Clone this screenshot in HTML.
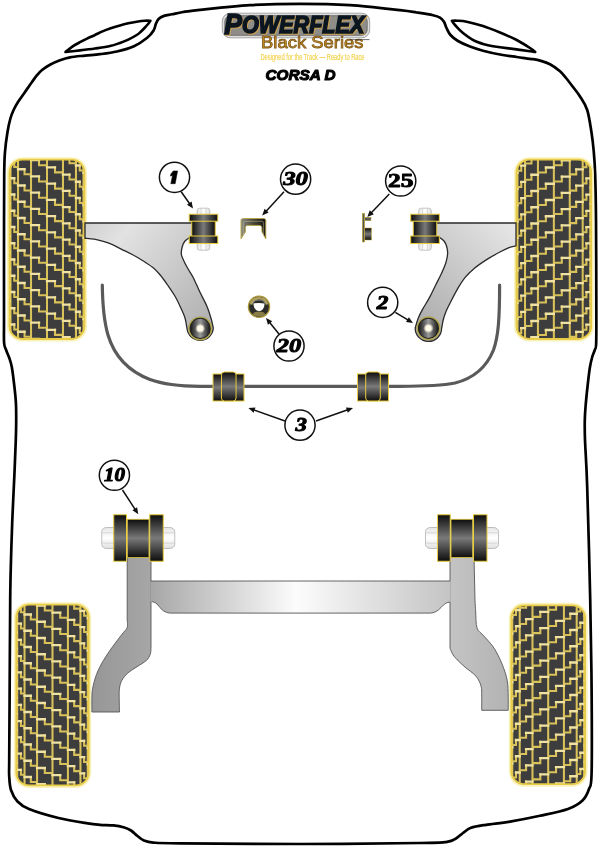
<!DOCTYPE html>
<html><head><meta charset="utf-8"><title>Powerflex Black Series - Corsa D</title>
<style>
html,body{margin:0;padding:0;background:#fff;width:600px;height:848px;overflow:hidden;font-family:"Liberation Sans",sans-serif;}
svg{display:block;will-change:transform;}
</style></head><body>
<svg width="600" height="848" viewBox="0 0 600 848">
<defs>
<linearGradient id="bushh" x1="0" y1="0" x2="1" y2="0">
<stop offset="0" stop-color="#0d0d0d"/><stop offset="0.5" stop-color="#7a7a7a"/><stop offset="1" stop-color="#0d0d0d"/></linearGradient>
<linearGradient id="bushv" x1="0" y1="0" x2="0" y2="1">
<stop offset="0" stop-color="#0d0d0d"/><stop offset="0.5" stop-color="#7a7a7a"/><stop offset="1" stop-color="#0d0d0d"/></linearGradient>
<linearGradient id="boltv" x1="0" y1="0" x2="1" y2="0">
<stop offset="0" stop-color="#e6e6e6"/><stop offset="0.5" stop-color="#ffffff"/><stop offset="1" stop-color="#e0e0e0"/></linearGradient>
<linearGradient id="bolth" x1="0" y1="0" x2="0" y2="1">
<stop offset="0" stop-color="#e6e6e6"/><stop offset="0.5" stop-color="#ffffff"/><stop offset="1" stop-color="#e0e0e0"/></linearGradient>
<linearGradient id="armL" x1="212" y1="325" x2="92" y2="222" gradientUnits="userSpaceOnUse">
<stop offset="0" stop-color="#b0b0b0"/><stop offset="0.8" stop-color="#e2e2e2"/><stop offset="1" stop-color="#d2d2d2"/></linearGradient>
<linearGradient id="armR" x1="420" y1="325" x2="516" y2="228" gradientUnits="userSpaceOnUse">
<stop offset="0" stop-color="#adadad"/><stop offset="1" stop-color="#e6e6e6"/></linearGradient>
<linearGradient id="bjh" x1="0" y1="0" x2="1" y2="0">
<stop offset="0" stop-color="#1c1c1c"/><stop offset="0.5" stop-color="#9a9a9a"/><stop offset="1" stop-color="#1c1c1c"/></linearGradient>
<radialGradient id="bj" cx="0.5" cy="0.5" r="0.5">
<stop offset="0" stop-color="#fffce8"/><stop offset="0.27" stop-color="#fff8d8"/><stop offset="0.36" stop-color="#a8a8a8"/><stop offset="0.62" stop-color="#6a6a6a"/><stop offset="0.8" stop-color="#262626"/><stop offset="0.9" stop-color="#1c1c1c"/><stop offset="1" stop-color="#5a5420"/></radialGradient>
<linearGradient id="axle" x1="90" y1="0" x2="510" y2="0" gradientUnits="userSpaceOnUse">
<stop offset="0" stop-color="#969696"/><stop offset="0.143" stop-color="#a6a6a6"/><stop offset="0.49" stop-color="#fcfcfc"/><stop offset="0.857" stop-color="#c4c4c4"/><stop offset="1" stop-color="#b2b2b2"/></linearGradient>
<linearGradient id="p30" x1="0" y1="0" x2="1" y2="0">
<stop offset="0" stop-color="#8a8a86"/><stop offset="0.5" stop-color="#4a4638"/><stop offset="1" stop-color="#141412"/></linearGradient>
</defs>
<path d="M300,3.8 C283.33,3.8 266.67,4.2 250,5.2 C233.33,6.2 211.17,8.67 200,9.8 C188.83,10.93 187.67,11.25 183,12 C178.33,12.75 175.17,13.65 172,14.3 C168.83,14.95 166.23,15.13 164,15.9 C161.77,16.67 159.93,17.63 158.6,18.9 C157.27,20.17 156.83,21.57 156,23.5 C155.17,25.43 155.07,28.12 153.6,30.5 C152.13,32.88 150.47,35.17 147.2,37.8 C143.93,40.43 139.03,44.02 134,46.3 C128.97,48.58 122.67,50.18 117,51.5 C111.33,52.82 105.33,53.52 100,54.2 C94.67,54.88 90,55.08 85,55.6 C80,56.12 74.17,56.53 70,57.3 C65.83,58.07 63.33,58.97 60,60.2 C56.67,61.43 53,63.07 50,64.7 C47,66.33 44.17,68.25 42,70 C39.83,71.75 38.67,73.2 37,75.2 C35.33,77.2 34,79.2 32,82 C30,84.8 27.33,88.67 25,92 C22.67,95.33 19.9,99 18,102 C16.1,105 14.87,107.25 13.6,110 C12.33,112.75 11.42,114.83 10.4,118.5 C9.38,122.17 8.4,126.42 7.5,132 C6.6,137.58 5.55,144.83 5,152 C4.45,159.17 4.37,158.67 4.2,175 C4.03,191.33 4.03,225.83 4,250 C3.97,274.17 3.98,304.5 4,320 C4.02,335.5 3.72,337.92 4.1,343 C4.48,348.08 5.43,348 6.3,350.5 C7.17,353 8.38,355.25 9.3,358 C10.22,360.75 10.98,362.5 11.8,367 C12.62,371.5 13.52,379.07 14.2,385 C14.88,390.93 15.57,396.77 15.9,402.6 C16.23,408.43 16.22,413.77 16.2,420 C16.18,426.23 16.12,430.5 15.8,440 C15.48,449.5 14.88,463.67 14.3,477 C13.72,490.33 12.85,506.17 12.3,520 C11.75,533.83 11.35,546.67 11,560 C10.65,573.33 10.43,576.67 10.2,600 C9.97,623.33 9.77,673.17 9.6,700 C9.43,726.83 9.27,748.33 9.2,761 C9.13,773.67 8.9,771.17 9.2,776 C9.5,780.83 9.62,785.75 11,790 C12.38,794.25 14.5,798.33 17.5,801.5 C20.5,804.67 22.17,806.25 29,809 C35.83,811.75 48.72,815.6 58.5,818 C68.28,820.4 80.78,822.27 87.7,823.4 C94.62,824.53 95.73,824.47 100,824.8 C104.27,825.13 109.38,825 113.3,825.4 C117.22,825.8 120.55,826.35 123.5,827.2 C126.45,828.05 128.67,829.03 131,830.5 C133.33,831.97 135.33,834.33 137.5,836 C139.67,837.67 141.37,839.4 144,840.5 C146.63,841.6 147.3,842.13 153.3,842.6 C159.3,843.07 155.55,843.07 180,843.3 C204.45,843.53 260,844.05 300,844 C340,843.95 395.5,843.37 420,843 C444.5,842.63 441,842.55 447,841.8 C453,841.05 453.33,839.97 456,838.5 C458.67,837.03 460.5,834.78 463,833 C465.5,831.22 467.17,829.17 471,827.8 C474.83,826.43 479.5,825.83 486,824.8 C492.5,823.77 501,823.1 510,821.6 C519,820.1 530.33,817.9 540,815.8 C549.67,813.7 560.92,811.55 568,809 C575.08,806.45 579,803.83 582.5,800.5 C586,797.17 587.48,793.58 589,789 C590.52,784.42 591.17,789.67 591.6,773 C592.03,756.33 591.83,718 591.6,689 C591.37,660 590.93,632.67 590.2,599 C589.47,565.33 588.07,513.5 587.2,487 C586.33,460.5 585.4,451.17 585,440 C584.6,428.83 584.7,425.67 584.8,420 C584.9,414.33 585.12,411.83 585.6,406 C586.08,400.17 587,391.33 587.7,385 C588.4,378.67 589.05,372.67 589.8,368 C590.55,363.33 591.37,360.03 592.2,357 C593.03,353.97 594.13,352.23 594.8,349.8 C595.47,347.37 595.95,350.7 596.2,342.4 C596.45,334.1 596.33,320.4 596.3,300 C596.27,279.6 596.18,240.83 596,220 C595.82,199.17 595.57,186.33 595.2,175 C594.83,163.67 594.42,159.08 593.8,152 C593.18,144.92 592.6,139.5 591.5,132.5 C590.4,125.5 589.12,116 587.2,110 C585.28,104 582.37,100.33 580,96.5 C577.63,92.67 575.33,90.08 573,87 C570.67,83.92 568.17,80.63 566,78 C563.83,75.37 562.67,73.5 560,71.2 C557.33,68.9 553.33,65.97 550,64.2 C546.67,62.43 542.83,61.43 540,60.6 C537.17,59.77 536.88,59.8 533,59.2 C529.12,58.6 522.2,57.78 516.7,57 C511.2,56.22 505.62,55.55 500,54.5 C494.38,53.45 488,52.02 483,50.7 C478,49.38 474.17,48.22 470,46.6 C465.83,44.98 461.25,42.93 458,41 C454.75,39.07 452.42,37.17 450.5,35 C448.58,32.83 447.58,30.2 446.5,28 C445.42,25.8 445.08,23.53 444,21.8 C442.92,20.07 441.83,18.7 440,17.6 C438.17,16.5 436.88,16.05 433,15.2 C429.12,14.35 422.2,13.33 416.7,12.5 C411.2,11.67 411.12,11.42 400,10.2 C388.88,8.98 366.67,6.27 350,5.2 C333.33,4.13 316.67,3.8 300,3.8Z" fill="none" stroke="#000" stroke-width="2.7" stroke-linejoin="round"/>
<path d="M65.5,52 C66.58,51.13 69.58,48.43 72,46.8 C74.42,45.17 77.42,43.6 80,42.2 C82.58,40.8 85,39.6 87.5,38.4 C90,37.2 92.5,36.17 95,35 C97.5,33.83 100,32.48 102.5,31.4 C105,30.32 107.08,29.5 110,28.5 C112.92,27.5 116.95,26.27 120,25.4 C123.05,24.53 125.52,23.92 128.3,23.3 C131.08,22.68 133.92,22.13 136.7,21.7 C139.48,21.27 142.72,20.85 145,20.7 C147.28,20.55 149.5,20.78 150.4,20.8 L150.4,20.8 C150.05,21.29 149.2,22.63 148.3,23.75 C147.4,24.87 146.25,26.18 145,27.5 C143.75,28.82 142.18,30.45 140.8,31.7 C139.42,32.95 138.78,33.68 136.7,35 C134.62,36.32 131.08,38.28 128.3,39.6 C125.52,40.92 123.05,41.82 120,42.9 C116.95,43.98 114.17,45.17 110,46.1 C105.83,47.03 100,47.78 95,48.5 C90,49.22 84.92,49.82 80,50.4 C75.08,50.98 67.92,51.73 65.5,52Z" fill="none" stroke="#000" stroke-width="2.6" stroke-linejoin="round"/>
<path d="M451.9,20.8 C452.75,20.78 454.53,20.55 457,20.7 C459.47,20.85 462.37,20.82 466.7,21.7 C471.03,22.58 477.45,24.2 483,26 C488.55,27.8 494.38,30.17 500,32.5 C505.62,34.83 511.7,37.42 516.7,40 C521.7,42.58 526.92,46 530,48 C533.08,50 534.33,51.33 535.2,52 L535.2,52 C534.33,51.87 533.08,51.63 530,51.2 C526.92,50.77 521.7,50.07 516.7,49.4 C511.7,48.73 504.78,47.88 500,47.2 C495.22,46.52 492.17,46.33 488,45.3 C483.83,44.27 479.17,43.05 475,41 C470.83,38.95 466.25,35.58 463,33 C459.75,30.42 457.35,27.53 455.5,25.5 C453.65,23.47 452.5,21.58 451.9,20.8Z" fill="none" stroke="#000" stroke-width="2.6" stroke-linejoin="round"/>
<clipPath id="tctl"><rect x="9.2" y="159.4" width="75.6" height="179.9" rx="13"/></clipPath>
<rect x="9.2" y="159.4" width="75.6" height="179.9" rx="13" fill="#3d3d3d"/>
<g clip-path="url(#tctl)" fill="none" stroke-width="2.05" stroke-linecap="square">
<path stroke="#dac25a" d="M9.84,122.3V127.3H10.49M9.84,138.55V143.55H10.49M9.84,154.8V159.8H10.49M9.84,171.05V176.05H10.49M9.84,187.3V192.3H10.49M9.84,203.55V208.55H10.49M9.84,219.8V224.8H10.49M9.84,236.05V241.05H10.49M9.84,252.3V257.3H10.49M9.84,268.55V273.55H10.49M9.84,284.8V289.8H10.49M9.84,301.05V306.05H10.49M9.84,317.3V322.3H10.49M9.84,333.55V338.55H10.49M9.84,349.8V354.8H10.49M14.27,113.25V118.25H18.04M14.27,129.5V134.5H18.04M14.27,145.75V150.75H18.04M14.27,162V167H18.04M14.27,178.25V183.25H18.04M14.27,194.5V199.5H18.04M14.27,210.75V215.75H18.04M14.27,227V232H18.04M14.27,243.25V248.25H18.04M14.27,259.5V264.5H18.04M14.27,275.75V280.75H18.04M14.27,292V297H18.04M14.27,308.25V313.25H18.04M14.27,324.5V329.5H18.04M14.27,340.75V345.75H18.04M24.53,120.45V125.45H31.03M24.53,136.7V141.7H31.03M24.53,152.95V157.95H31.03M24.53,169.2V174.2H31.03M24.53,185.45V190.45H31.03M24.53,201.7V206.7H31.03M24.53,217.95V222.95H31.03M24.53,234.2V239.2H31.03M24.53,250.45V255.45H31.03M24.53,266.7V271.7H31.03M24.53,282.95V287.95H31.03M24.53,299.2V304.2H31.03M24.53,315.45V320.45H31.03M24.53,331.7V336.7H31.03M24.53,347.95V352.95H31.03M39.01,111.4V116.4H47M39.01,127.65V132.65H47M39.01,143.9V148.9H47M39.01,160.15V165.15H47M39.01,176.4V181.4H47M39.01,192.65V197.65H47M39.01,208.9V213.9H47M39.01,225.15V230.15H47M39.01,241.4V246.4H47M39.01,257.65V262.65H47M39.01,273.9V278.9H47M39.01,290.15V295.15H47M39.01,306.4V311.4H47M39.01,322.65V327.65H47M39.01,338.9V343.9H47M39.01,355.15V360.15H47M54.99,118.6V123.6H62.97M54.99,134.85V139.85H62.97M54.99,151.1V156.1H62.97M54.99,167.35V172.35H62.97M54.99,183.6V188.6H62.97M54.99,199.85V204.85H62.97M54.99,216.1V221.1H62.97M54.99,232.35V237.35H62.97M54.99,248.6V253.6H62.97M54.99,264.85V269.85H62.97M54.99,281.1V286.1H62.97M54.99,297.35V302.35H62.97M54.99,313.6V318.6H62.97M54.99,329.85V334.85H62.97M54.99,346.1V351.1H62.97M69.47,125.8V130.8H75.96M69.47,142.05V147.05H75.96M69.47,158.3V163.3H75.96M69.47,174.55V179.55H75.96M69.47,190.8V195.8H75.96M69.47,207.05V212.05H75.96M69.47,223.3V228.3H75.96M69.47,239.55V244.55H75.96M69.47,255.8V260.8H75.96M69.47,272.05V277.05H75.96M69.47,288.3V293.3H75.96M69.47,304.55V309.55H75.96M69.47,320.8V325.8H75.96M69.47,337.05V342.05H75.96M69.47,353.3V358.3H75.96M79.73,116.75V121.75H83.51M79.73,133V138H83.51M79.73,149.25V154.25H83.51M79.73,165.5V170.5H83.51M79.73,181.75V186.75H83.51M79.73,198V203H83.51M79.73,214.25V219.25H83.51M79.73,230.5V235.5H83.51M79.73,246.75V251.75H83.51M79.73,263V268H83.51M79.73,279.25V284.25H83.51M79.73,295.5V300.5H83.51M79.73,311.75V316.75H83.51M79.73,328V333H83.51M79.73,344.25V349.25H83.51M84.16,123.95V128.95H84.8M84.16,140.2V145.2H84.8M84.16,156.45V161.45H84.8M84.16,172.7V177.7H84.8M84.16,188.95V193.95H84.8M84.16,205.2V210.2H84.8M84.16,221.45V226.45H84.8M84.16,237.7V242.7H84.8M84.16,253.95V258.95H84.8M84.16,270.2V275.2H84.8M84.16,286.45V291.45H84.8M84.16,302.7V307.7H84.8M84.16,318.95V323.95H84.8M84.16,335.2V340.2H84.8M84.16,351.45V356.45H84.8M10.49,159.4V339.3M18.04,159.4V339.3M31.03,159.4V339.3M47,159.4V339.3M62.97,159.4V339.3M75.96,159.4V339.3M83.51,159.4V339.3"/>
<path stroke="#f0e2a2" stroke-width="2.35" d="M9.2,122.3H9.84M9.2,138.55H9.84M9.2,154.8H9.84M9.2,171.05H9.84M9.2,187.3H9.84M9.2,203.55H9.84M9.2,219.8H9.84M9.2,236.05H9.84M9.2,252.3H9.84M9.2,268.55H9.84M9.2,284.8H9.84M9.2,301.05H9.84M9.2,317.3H9.84M9.2,333.55H9.84M9.2,349.8H9.84M10.49,113.25H14.27M10.49,129.5H14.27M10.49,145.75H14.27M10.49,162H14.27M10.49,178.25H14.27M10.49,194.5H14.27M10.49,210.75H14.27M10.49,227H14.27M10.49,243.25H14.27M10.49,259.5H14.27M10.49,275.75H14.27M10.49,292H14.27M10.49,308.25H14.27M10.49,324.5H14.27M10.49,340.75H14.27M18.04,120.45H24.53M18.04,136.7H24.53M18.04,152.95H24.53M18.04,169.2H24.53M18.04,185.45H24.53M18.04,201.7H24.53M18.04,217.95H24.53M18.04,234.2H24.53M18.04,250.45H24.53M18.04,266.7H24.53M18.04,282.95H24.53M18.04,299.2H24.53M18.04,315.45H24.53M18.04,331.7H24.53M18.04,347.95H24.53M31.03,111.4H39.01M31.03,127.65H39.01M31.03,143.9H39.01M31.03,160.15H39.01M31.03,176.4H39.01M31.03,192.65H39.01M31.03,208.9H39.01M31.03,225.15H39.01M31.03,241.4H39.01M31.03,257.65H39.01M31.03,273.9H39.01M31.03,290.15H39.01M31.03,306.4H39.01M31.03,322.65H39.01M31.03,338.9H39.01M31.03,355.15H39.01M47,118.6H54.99M47,134.85H54.99M47,151.1H54.99M47,167.35H54.99M47,183.6H54.99M47,199.85H54.99M47,216.1H54.99M47,232.35H54.99M47,248.6H54.99M47,264.85H54.99M47,281.1H54.99M47,297.35H54.99M47,313.6H54.99M47,329.85H54.99M47,346.1H54.99M62.97,125.8H69.47M62.97,142.05H69.47M62.97,158.3H69.47M62.97,174.55H69.47M62.97,190.8H69.47M62.97,207.05H69.47M62.97,223.3H69.47M62.97,239.55H69.47M62.97,255.8H69.47M62.97,272.05H69.47M62.97,288.3H69.47M62.97,304.55H69.47M62.97,320.8H69.47M62.97,337.05H69.47M62.97,353.3H69.47M75.96,116.75H79.73M75.96,133H79.73M75.96,149.25H79.73M75.96,165.5H79.73M75.96,181.75H79.73M75.96,198H79.73M75.96,214.25H79.73M75.96,230.5H79.73M75.96,246.75H79.73M75.96,263H79.73M75.96,279.25H79.73M75.96,295.5H79.73M75.96,311.75H79.73M75.96,328H79.73M75.96,344.25H79.73M83.51,123.95H84.16M83.51,140.2H84.16M83.51,156.45H84.16M83.51,172.7H84.16M83.51,188.95H84.16M83.51,205.2H84.16M83.51,221.45H84.16M83.51,237.7H84.16M83.51,253.95H84.16M83.51,270.2H84.16M83.51,286.45H84.16M83.51,302.7H84.16M83.51,318.95H84.16M83.51,335.2H84.16M83.51,351.45H84.16"/>
</g>
<rect x="8.1" y="158.3" width="77.8" height="182.1" rx="14" fill="none" stroke="#f9f0b0" stroke-width="2.2" opacity="0.85"/>
<rect x="9.5" y="159.7" width="75" height="179.3" rx="13" fill="none" stroke="#e8cc48" stroke-width="1.8"/>
<clipPath id="tctr"><rect x="516.2" y="159.4" width="75.3" height="179.9" rx="13"/></clipPath>
<rect x="516.2" y="159.4" width="75.3" height="179.9" rx="13" fill="#3d3d3d"/>
<g clip-path="url(#tctr)" fill="none" stroke-width="2.05" stroke-linecap="square">
<path stroke="#dac25a" d="M516.84,124.1V129.1H516.2M516.84,140.35V145.35H516.2M516.84,156.6V161.6H516.2M516.84,172.85V177.85H516.2M516.84,189.1V194.1H516.2M516.84,205.35V210.35H516.2M516.84,221.6V226.6H516.2M516.84,237.85V242.85H516.2M516.84,254.1V259.1H516.2M516.84,270.35V275.35H516.2M516.84,286.6V291.6H516.2M516.84,302.85V307.85H516.2M516.84,319.1V324.1H516.2M516.84,335.35V340.35H516.2M516.84,351.6V356.6H516.2M521.25,116.9V121.9H517.48M521.25,133.15V138.15H517.48M521.25,149.4V154.4H517.48M521.25,165.65V170.65H517.48M521.25,181.9V186.9H517.48M521.25,198.15V203.15H517.48M521.25,214.4V219.4H517.48M521.25,230.65V235.65H517.48M521.25,246.9V251.9H517.48M521.25,263.15V268.15H517.48M521.25,279.4V284.4H517.48M521.25,295.65V300.65H517.48M521.25,311.9V316.9H517.48M521.25,328.15V333.15H517.48M521.25,344.4V349.4H517.48M531.47,125.95V130.95H525.01M531.47,142.2V147.2H525.01M531.47,158.45V163.45H525.01M531.47,174.7V179.7H525.01M531.47,190.95V195.95H525.01M531.47,207.2V212.2H525.01M531.47,223.45V228.45H525.01M531.47,239.7V244.7H525.01M531.47,255.95V260.95H525.01M531.47,272.2V277.2H525.01M531.47,288.45V293.45H525.01M531.47,304.7V309.7H525.01M531.47,320.95V325.95H525.01M531.47,337.2V342.2H525.01M531.47,353.45V358.45H525.01M545.89,118.75V123.75H537.94M545.89,135V140H537.94M545.89,151.25V156.25H537.94M545.89,167.5V172.5H537.94M545.89,183.75V188.75H537.94M545.89,200V205H537.94M545.89,216.25V221.25H537.94M545.89,232.5V237.5H537.94M545.89,248.75V253.75H537.94M545.89,265V270H537.94M545.89,281.25V286.25H537.94M545.89,297.5V302.5H537.94M545.89,313.75V318.75H537.94M545.89,330V335H537.94M545.89,346.25V351.25H537.94M561.81,111.55V116.55H553.85M561.81,127.8V132.8H553.85M561.81,144.05V149.05H553.85M561.81,160.3V165.3H553.85M561.81,176.55V181.55H553.85M561.81,192.8V197.8H553.85M561.81,209.05V214.05H553.85M561.81,225.3V230.3H553.85M561.81,241.55V246.55H553.85M561.81,257.8V262.8H553.85M561.81,274.05V279.05H553.85M561.81,290.3V295.3H553.85M561.81,306.55V311.55H553.85M561.81,322.8V327.8H553.85M561.81,339.05V344.05H553.85M561.81,355.3V360.3H553.85M576.23,120.6V125.6H569.76M576.23,136.85V141.85H569.76M576.23,153.1V158.1H569.76M576.23,169.35V174.35H569.76M576.23,185.6V190.6H569.76M576.23,201.85V206.85H569.76M576.23,218.1V223.1H569.76M576.23,234.35V239.35H569.76M576.23,250.6V255.6H569.76M576.23,266.85V271.85H569.76M576.23,283.1V288.1H569.76M576.23,299.35V304.35H569.76M576.23,315.6V320.6H569.76M576.23,331.85V336.85H569.76M576.23,348.1V353.1H569.76M586.45,113.4V118.4H582.69M586.45,129.65V134.65H582.69M586.45,145.9V150.9H582.69M586.45,162.15V167.15H582.69M586.45,178.4V183.4H582.69M586.45,194.65V199.65H582.69M586.45,210.9V215.9H582.69M586.45,227.15V232.15H582.69M586.45,243.4V248.4H582.69M586.45,259.65V264.65H582.69M586.45,275.9V280.9H582.69M586.45,292.15V297.15H582.69M586.45,308.4V313.4H582.69M586.45,324.65V329.65H582.69M586.45,340.9V345.9H582.69M590.86,122.45V127.45H590.22M590.86,138.7V143.7H590.22M590.86,154.95V159.95H590.22M590.86,171.2V176.2H590.22M590.86,187.45V192.45H590.22M590.86,203.7V208.7H590.22M590.86,219.95V224.95H590.22M590.86,236.2V241.2H590.22M590.86,252.45V257.45H590.22M590.86,268.7V273.7H590.22M590.86,284.95V289.95H590.22M590.86,301.2V306.2H590.22M590.86,317.45V322.45H590.22M590.86,333.7V338.7H590.22M590.86,349.95V354.95H590.22M517.48,159.4V339.3M525.01,159.4V339.3M537.94,159.4V339.3M553.85,159.4V339.3M569.76,159.4V339.3M582.69,159.4V339.3M590.22,159.4V339.3"/>
<path stroke="#f0e2a2" stroke-width="2.35" d="M516.84,124.1H517.48M516.84,140.35H517.48M516.84,156.6H517.48M516.84,172.85H517.48M516.84,189.1H517.48M516.84,205.35H517.48M516.84,221.6H517.48M516.84,237.85H517.48M516.84,254.1H517.48M516.84,270.35H517.48M516.84,286.6H517.48M516.84,302.85H517.48M516.84,319.1H517.48M516.84,335.35H517.48M516.84,351.6H517.48M521.25,116.9H525.01M521.25,133.15H525.01M521.25,149.4H525.01M521.25,165.65H525.01M521.25,181.9H525.01M521.25,198.15H525.01M521.25,214.4H525.01M521.25,230.65H525.01M521.25,246.9H525.01M521.25,263.15H525.01M521.25,279.4H525.01M521.25,295.65H525.01M521.25,311.9H525.01M521.25,328.15H525.01M521.25,344.4H525.01M531.47,125.95H537.94M531.47,142.2H537.94M531.47,158.45H537.94M531.47,174.7H537.94M531.47,190.95H537.94M531.47,207.2H537.94M531.47,223.45H537.94M531.47,239.7H537.94M531.47,255.95H537.94M531.47,272.2H537.94M531.47,288.45H537.94M531.47,304.7H537.94M531.47,320.95H537.94M531.47,337.2H537.94M531.47,353.45H537.94M545.89,118.75H553.85M545.89,135H553.85M545.89,151.25H553.85M545.89,167.5H553.85M545.89,183.75H553.85M545.89,200H553.85M545.89,216.25H553.85M545.89,232.5H553.85M545.89,248.75H553.85M545.89,265H553.85M545.89,281.25H553.85M545.89,297.5H553.85M545.89,313.75H553.85M545.89,330H553.85M545.89,346.25H553.85M561.81,111.55H569.76M561.81,127.8H569.76M561.81,144.05H569.76M561.81,160.3H569.76M561.81,176.55H569.76M561.81,192.8H569.76M561.81,209.05H569.76M561.81,225.3H569.76M561.81,241.55H569.76M561.81,257.8H569.76M561.81,274.05H569.76M561.81,290.3H569.76M561.81,306.55H569.76M561.81,322.8H569.76M561.81,339.05H569.76M561.81,355.3H569.76M576.23,120.6H582.69M576.23,136.85H582.69M576.23,153.1H582.69M576.23,169.35H582.69M576.23,185.6H582.69M576.23,201.85H582.69M576.23,218.1H582.69M576.23,234.35H582.69M576.23,250.6H582.69M576.23,266.85H582.69M576.23,283.1H582.69M576.23,299.35H582.69M576.23,315.6H582.69M576.23,331.85H582.69M576.23,348.1H582.69M586.45,113.4H590.22M586.45,129.65H590.22M586.45,145.9H590.22M586.45,162.15H590.22M586.45,178.4H590.22M586.45,194.65H590.22M586.45,210.9H590.22M586.45,227.15H590.22M586.45,243.4H590.22M586.45,259.65H590.22M586.45,275.9H590.22M586.45,292.15H590.22M586.45,308.4H590.22M586.45,324.65H590.22M586.45,340.9H590.22M590.86,122.45H591.5M590.86,138.7H591.5M590.86,154.95H591.5M590.86,171.2H591.5M590.86,187.45H591.5M590.86,203.7H591.5M590.86,219.95H591.5M590.86,236.2H591.5M590.86,252.45H591.5M590.86,268.7H591.5M590.86,284.95H591.5M590.86,301.2H591.5M590.86,317.45H591.5M590.86,333.7H591.5M590.86,349.95H591.5"/>
</g>
<rect x="515.1" y="158.3" width="77.5" height="182.1" rx="14" fill="none" stroke="#f9f0b0" stroke-width="2.2" opacity="0.85"/>
<rect x="516.5" y="159.7" width="74.7" height="179.3" rx="13" fill="none" stroke="#e8cc48" stroke-width="1.8"/>
<clipPath id="tcbl"><rect x="16" y="604.4" width="73" height="181.3" rx="13"/></clipPath>
<rect x="16" y="604.4" width="73" height="181.3" rx="13" fill="#3d3d3d"/>
<g clip-path="url(#tcbl)" fill="none" stroke-width="2.05" stroke-linecap="square">
<path stroke="#dac25a" d="M16.62,567.6V572.6H17.24M16.62,583.85V588.85H17.24M16.62,600.1V605.1H17.24M16.62,616.35V621.35H17.24M16.62,632.6V637.6H17.24M16.62,648.85V653.85H17.24M16.62,665.1V670.1H17.24M16.62,681.35V686.35H17.24M16.62,697.6V702.6H17.24M16.62,713.85V718.85H17.24M16.62,730.1V735.1H17.24M16.62,746.35V751.35H17.24M16.62,762.6V767.6H17.24M16.62,778.85V783.85H17.24M16.62,795.1V800.1H17.24M20.89,558.55V563.55H24.54M20.89,574.8V579.8H24.54M20.89,591.05V596.05H24.54M20.89,607.3V612.3H24.54M20.89,623.55V628.55H24.54M20.89,639.8V644.8H24.54M20.89,656.05V661.05H24.54M20.89,672.3V677.3H24.54M20.89,688.55V693.55H24.54M20.89,704.8V709.8H24.54M20.89,721.05V726.05H24.54M20.89,737.3V742.3H24.54M20.89,753.55V758.55H24.54M20.89,769.8V774.8H24.54M20.89,786.05V791.05H24.54M30.81,565.75V570.75H37.07M30.81,582V587H37.07M30.81,598.25V603.25H37.07M30.81,614.5V619.5H37.07M30.81,630.75V635.75H37.07M30.81,647V652H37.07M30.81,663.25V668.25H37.07M30.81,679.5V684.5H37.07M30.81,695.75V700.75H37.07M30.81,712V717H37.07M30.81,728.25V733.25H37.07M30.81,744.5V749.5H37.07M30.81,760.75V765.75H37.07M30.81,777V782H37.07M30.81,793.25V798.25H37.07M44.79,556.7V561.7H52.5M44.79,572.95V577.95H52.5M44.79,589.2V594.2H52.5M44.79,605.45V610.45H52.5M44.79,621.7V626.7H52.5M44.79,637.95V642.95H52.5M44.79,654.2V659.2H52.5M44.79,670.45V675.45H52.5M44.79,686.7V691.7H52.5M44.79,702.95V707.95H52.5M44.79,719.2V724.2H52.5M44.79,735.45V740.45H52.5M44.79,751.7V756.7H52.5M44.79,767.95V772.95H52.5M44.79,784.2V789.2H52.5M44.79,800.45V805.45H52.5M60.21,563.9V568.9H67.93M60.21,580.15V585.15H67.93M60.21,596.4V601.4H67.93M60.21,612.65V617.65H67.93M60.21,628.9V633.9H67.93M60.21,645.15V650.15H67.93M60.21,661.4V666.4H67.93M60.21,677.65V682.65H67.93M60.21,693.9V698.9H67.93M60.21,710.15V715.15H67.93M60.21,726.4V731.4H67.93M60.21,742.65V747.65H67.93M60.21,758.9V763.9H67.93M60.21,775.15V780.15H67.93M60.21,791.4V796.4H67.93M74.19,571.1V576.1H80.46M74.19,587.35V592.35H80.46M74.19,603.6V608.6H80.46M74.19,619.85V624.85H80.46M74.19,636.1V641.1H80.46M74.19,652.35V657.35H80.46M74.19,668.6V673.6H80.46M74.19,684.85V689.85H80.46M74.19,701.1V706.1H80.46M74.19,717.35V722.35H80.46M74.19,733.6V738.6H80.46M74.19,749.85V754.85H80.46M74.19,766.1V771.1H80.46M74.19,782.35V787.35H80.46M74.19,798.6V803.6H80.46M84.11,562.05V567.05H87.76M84.11,578.3V583.3H87.76M84.11,594.55V599.55H87.76M84.11,610.8V615.8H87.76M84.11,627.05V632.05H87.76M84.11,643.3V648.3H87.76M84.11,659.55V664.55H87.76M84.11,675.8V680.8H87.76M84.11,692.05V697.05H87.76M84.11,708.3V713.3H87.76M84.11,724.55V729.55H87.76M84.11,740.8V745.8H87.76M84.11,757.05V762.05H87.76M84.11,773.3V778.3H87.76M84.11,789.55V794.55H87.76M88.38,569.25V574.25H89M88.38,585.5V590.5H89M88.38,601.75V606.75H89M88.38,618V623H89M88.38,634.25V639.25H89M88.38,650.5V655.5H89M88.38,666.75V671.75H89M88.38,683V688H89M88.38,699.25V704.25H89M88.38,715.5V720.5H89M88.38,731.75V736.75H89M88.38,748V753H89M88.38,764.25V769.25H89M88.38,780.5V785.5H89M88.38,796.75V801.75H89M17.24,604.4V785.7M24.54,604.4V785.7M37.07,604.4V785.7M52.5,604.4V785.7M67.93,604.4V785.7M80.46,604.4V785.7M87.76,604.4V785.7"/>
<path stroke="#f0e2a2" stroke-width="2.35" d="M16,567.6H16.62M16,583.85H16.62M16,600.1H16.62M16,616.35H16.62M16,632.6H16.62M16,648.85H16.62M16,665.1H16.62M16,681.35H16.62M16,697.6H16.62M16,713.85H16.62M16,730.1H16.62M16,746.35H16.62M16,762.6H16.62M16,778.85H16.62M16,795.1H16.62M17.24,558.55H20.89M17.24,574.8H20.89M17.24,591.05H20.89M17.24,607.3H20.89M17.24,623.55H20.89M17.24,639.8H20.89M17.24,656.05H20.89M17.24,672.3H20.89M17.24,688.55H20.89M17.24,704.8H20.89M17.24,721.05H20.89M17.24,737.3H20.89M17.24,753.55H20.89M17.24,769.8H20.89M17.24,786.05H20.89M24.54,565.75H30.81M24.54,582H30.81M24.54,598.25H30.81M24.54,614.5H30.81M24.54,630.75H30.81M24.54,647H30.81M24.54,663.25H30.81M24.54,679.5H30.81M24.54,695.75H30.81M24.54,712H30.81M24.54,728.25H30.81M24.54,744.5H30.81M24.54,760.75H30.81M24.54,777H30.81M24.54,793.25H30.81M37.07,556.7H44.79M37.07,572.95H44.79M37.07,589.2H44.79M37.07,605.45H44.79M37.07,621.7H44.79M37.07,637.95H44.79M37.07,654.2H44.79M37.07,670.45H44.79M37.07,686.7H44.79M37.07,702.95H44.79M37.07,719.2H44.79M37.07,735.45H44.79M37.07,751.7H44.79M37.07,767.95H44.79M37.07,784.2H44.79M37.07,800.45H44.79M52.5,563.9H60.21M52.5,580.15H60.21M52.5,596.4H60.21M52.5,612.65H60.21M52.5,628.9H60.21M52.5,645.15H60.21M52.5,661.4H60.21M52.5,677.65H60.21M52.5,693.9H60.21M52.5,710.15H60.21M52.5,726.4H60.21M52.5,742.65H60.21M52.5,758.9H60.21M52.5,775.15H60.21M52.5,791.4H60.21M67.93,571.1H74.19M67.93,587.35H74.19M67.93,603.6H74.19M67.93,619.85H74.19M67.93,636.1H74.19M67.93,652.35H74.19M67.93,668.6H74.19M67.93,684.85H74.19M67.93,701.1H74.19M67.93,717.35H74.19M67.93,733.6H74.19M67.93,749.85H74.19M67.93,766.1H74.19M67.93,782.35H74.19M67.93,798.6H74.19M80.46,562.05H84.11M80.46,578.3H84.11M80.46,594.55H84.11M80.46,610.8H84.11M80.46,627.05H84.11M80.46,643.3H84.11M80.46,659.55H84.11M80.46,675.8H84.11M80.46,692.05H84.11M80.46,708.3H84.11M80.46,724.55H84.11M80.46,740.8H84.11M80.46,757.05H84.11M80.46,773.3H84.11M80.46,789.55H84.11M87.76,569.25H88.38M87.76,585.5H88.38M87.76,601.75H88.38M87.76,618H88.38M87.76,634.25H88.38M87.76,650.5H88.38M87.76,666.75H88.38M87.76,683H88.38M87.76,699.25H88.38M87.76,715.5H88.38M87.76,731.75H88.38M87.76,748H88.38M87.76,764.25H88.38M87.76,780.5H88.38M87.76,796.75H88.38"/>
</g>
<rect x="14.9" y="603.3" width="75.2" height="183.5" rx="14" fill="none" stroke="#f9f0b0" stroke-width="2.2" opacity="0.85"/>
<rect x="16.3" y="604.7" width="72.4" height="180.7" rx="13" fill="none" stroke="#e8cc48" stroke-width="1.8"/>
<clipPath id="tcbr"><rect x="511" y="605" width="74.4" height="179.5" rx="13"/></clipPath>
<rect x="511" y="605" width="74.4" height="179.5" rx="13" fill="#3d3d3d"/>
<g clip-path="url(#tcbr)" fill="none" stroke-width="2.05" stroke-linecap="square">
<path stroke="#dac25a" d="M511.63,568.45V573.45H511M511.63,584.7V589.7H511M511.63,600.95V605.95H511M511.63,617.2V622.2H511M511.63,633.45V638.45H511M511.63,649.7V654.7H511M511.63,665.95V670.95H511M511.63,682.2V687.2H511M511.63,698.45V703.45H511M511.63,714.7V719.7H511M511.63,730.95V735.95H511M511.63,747.2V752.2H511M511.63,763.45V768.45H511M511.63,779.7V784.7H511M511.63,795.95V800.95H511M515.99,561.25V566.25H512.27M515.99,577.5V582.5H512.27M515.99,593.75V598.75H512.27M515.99,610V615H512.27M515.99,626.25V631.25H512.27M515.99,642.5V647.5H512.27M515.99,658.75V663.75H512.27M515.99,675V680H512.27M515.99,691.25V696.25H512.27M515.99,707.5V712.5H512.27M515.99,723.75V728.75H512.27M515.99,740V745H512.27M515.99,756.25V761.25H512.27M515.99,772.5V777.5H512.27M515.99,788.75V793.75H512.27M526.09,570.3V575.3H519.7M526.09,586.55V591.55H519.7M526.09,602.8V607.8H519.7M526.09,619.05V624.05H519.7M526.09,635.3V640.3H519.7M526.09,651.55V656.55H519.7M526.09,667.8V672.8H519.7M526.09,684.05V689.05H519.7M526.09,700.3V705.3H519.7M526.09,716.55V721.55H519.7M526.09,732.8V737.8H519.7M526.09,749.05V754.05H519.7M526.09,765.3V770.3H519.7M526.09,781.55V786.55H519.7M526.09,797.8V802.8H519.7M540.34,563.1V568.1H532.48M540.34,579.35V584.35H532.48M540.34,595.6V600.6H532.48M540.34,611.85V616.85H532.48M540.34,628.1V633.1H532.48M540.34,644.35V649.35H532.48M540.34,660.6V665.6H532.48M540.34,676.85V681.85H532.48M540.34,693.1V698.1H532.48M540.34,709.35V714.35H532.48M540.34,725.6V730.6H532.48M540.34,741.85V746.85H532.48M540.34,758.1V763.1H532.48M540.34,774.35V779.35H532.48M540.34,790.6V795.6H532.48M556.06,572.15V577.15H548.2M556.06,588.4V593.4H548.2M556.06,604.65V609.65H548.2M556.06,620.9V625.9H548.2M556.06,637.15V642.15H548.2M556.06,653.4V658.4H548.2M556.06,669.65V674.65H548.2M556.06,685.9V690.9H548.2M556.06,702.15V707.15H548.2M556.06,718.4V723.4H548.2M556.06,734.65V739.65H548.2M556.06,750.9V755.9H548.2M556.06,767.15V772.15H548.2M556.06,783.4V788.4H548.2M556.06,799.65V804.65H548.2M570.31,564.95V569.95H563.92M570.31,581.2V586.2H563.92M570.31,597.45V602.45H563.92M570.31,613.7V618.7H563.92M570.31,629.95V634.95H563.92M570.31,646.2V651.2H563.92M570.31,662.45V667.45H563.92M570.31,678.7V683.7H563.92M570.31,694.95V699.95H563.92M570.31,711.2V716.2H563.92M570.31,727.45V732.45H563.92M570.31,743.7V748.7H563.92M570.31,759.95V764.95H563.92M570.31,776.2V781.2H563.92M570.31,792.45V797.45H563.92M580.41,557.75V562.75H576.7M580.41,574V579H576.7M580.41,590.25V595.25H576.7M580.41,606.5V611.5H576.7M580.41,622.75V627.75H576.7M580.41,639V644H576.7M580.41,655.25V660.25H576.7M580.41,671.5V676.5H576.7M580.41,687.75V692.75H576.7M580.41,704V709H576.7M580.41,720.25V725.25H576.7M580.41,736.5V741.5H576.7M580.41,752.75V757.75H576.7M580.41,769V774H576.7M580.41,785.25V790.25H576.7M584.77,566.8V571.8H584.13M584.77,583.05V588.05H584.13M584.77,599.3V604.3H584.13M584.77,615.55V620.55H584.13M584.77,631.8V636.8H584.13M584.77,648.05V653.05H584.13M584.77,664.3V669.3H584.13M584.77,680.55V685.55H584.13M584.77,696.8V701.8H584.13M584.77,713.05V718.05H584.13M584.77,729.3V734.3H584.13M584.77,745.55V750.55H584.13M584.77,761.8V766.8H584.13M584.77,778.05V783.05H584.13M584.77,794.3V799.3H584.13M512.27,605V784.5M519.7,605V784.5M532.48,605V784.5M548.2,605V784.5M563.92,605V784.5M576.7,605V784.5M584.13,605V784.5"/>
<path stroke="#f0e2a2" stroke-width="2.35" d="M511.63,568.45H512.27M511.63,584.7H512.27M511.63,600.95H512.27M511.63,617.2H512.27M511.63,633.45H512.27M511.63,649.7H512.27M511.63,665.95H512.27M511.63,682.2H512.27M511.63,698.45H512.27M511.63,714.7H512.27M511.63,730.95H512.27M511.63,747.2H512.27M511.63,763.45H512.27M511.63,779.7H512.27M511.63,795.95H512.27M515.99,561.25H519.7M515.99,577.5H519.7M515.99,593.75H519.7M515.99,610H519.7M515.99,626.25H519.7M515.99,642.5H519.7M515.99,658.75H519.7M515.99,675H519.7M515.99,691.25H519.7M515.99,707.5H519.7M515.99,723.75H519.7M515.99,740H519.7M515.99,756.25H519.7M515.99,772.5H519.7M515.99,788.75H519.7M526.09,570.3H532.48M526.09,586.55H532.48M526.09,602.8H532.48M526.09,619.05H532.48M526.09,635.3H532.48M526.09,651.55H532.48M526.09,667.8H532.48M526.09,684.05H532.48M526.09,700.3H532.48M526.09,716.55H532.48M526.09,732.8H532.48M526.09,749.05H532.48M526.09,765.3H532.48M526.09,781.55H532.48M526.09,797.8H532.48M540.34,563.1H548.2M540.34,579.35H548.2M540.34,595.6H548.2M540.34,611.85H548.2M540.34,628.1H548.2M540.34,644.35H548.2M540.34,660.6H548.2M540.34,676.85H548.2M540.34,693.1H548.2M540.34,709.35H548.2M540.34,725.6H548.2M540.34,741.85H548.2M540.34,758.1H548.2M540.34,774.35H548.2M540.34,790.6H548.2M556.06,572.15H563.92M556.06,588.4H563.92M556.06,604.65H563.92M556.06,620.9H563.92M556.06,637.15H563.92M556.06,653.4H563.92M556.06,669.65H563.92M556.06,685.9H563.92M556.06,702.15H563.92M556.06,718.4H563.92M556.06,734.65H563.92M556.06,750.9H563.92M556.06,767.15H563.92M556.06,783.4H563.92M556.06,799.65H563.92M570.31,564.95H576.7M570.31,581.2H576.7M570.31,597.45H576.7M570.31,613.7H576.7M570.31,629.95H576.7M570.31,646.2H576.7M570.31,662.45H576.7M570.31,678.7H576.7M570.31,694.95H576.7M570.31,711.2H576.7M570.31,727.45H576.7M570.31,743.7H576.7M570.31,759.95H576.7M570.31,776.2H576.7M570.31,792.45H576.7M580.41,557.75H584.13M580.41,574H584.13M580.41,590.25H584.13M580.41,606.5H584.13M580.41,622.75H584.13M580.41,639H584.13M580.41,655.25H584.13M580.41,671.5H584.13M580.41,687.75H584.13M580.41,704H584.13M580.41,720.25H584.13M580.41,736.5H584.13M580.41,752.75H584.13M580.41,769H584.13M580.41,785.25H584.13M584.77,566.8H585.4M584.77,583.05H585.4M584.77,599.3H585.4M584.77,615.55H585.4M584.77,631.8H585.4M584.77,648.05H585.4M584.77,664.3H585.4M584.77,680.55H585.4M584.77,696.8H585.4M584.77,713.05H585.4M584.77,729.3H585.4M584.77,745.55H585.4M584.77,761.8H585.4M584.77,778.05H585.4M584.77,794.3H585.4"/>
</g>
<rect x="509.9" y="603.9" width="76.6" height="181.7" rx="14" fill="none" stroke="#f9f0b0" stroke-width="2.2" opacity="0.85"/>
<rect x="511.3" y="605.3" width="73.8" height="178.9" rx="13" fill="none" stroke="#e8cc48" stroke-width="1.8"/>
<path d="M85,223 H196 V237.3 L190,237.3 C189.17,237.92 186.28,239.47 185,241 C183.72,242.53 182.92,244.35 182.3,246.5 C181.68,248.65 181.15,251.75 181.3,253.9 C181.45,256.05 182.12,256.97 183.2,259.4 C184.28,261.83 186.12,265.45 187.8,268.5 C189.48,271.55 191.27,273.73 193.3,277.7 C195.33,281.67 197.72,287.5 200,292.3 C202.28,297.1 205.13,302.05 207,306.5 C208.87,310.95 210.15,315.42 211.2,319 C212.25,322.58 212.95,326.5 213.3,328 A13.2,13.2 0 0 1 187,328.5 L187,328.5 C186.67,326.75 186.1,321.58 185,318 C183.9,314.42 182.08,310.67 180.4,307 C178.72,303.33 177.03,299.67 174.9,296 C172.77,292.33 170.05,288.5 167.6,285 C165.15,281.5 162.65,277.9 160.2,275 C157.75,272.1 155.65,269.9 152.9,267.6 C150.15,265.3 147.07,263.33 143.7,261.2 C140.33,259.07 136.37,256.78 132.7,254.8 C129.03,252.82 125.07,250.98 121.7,249.3 C118.33,247.62 115.57,246.02 112.5,244.7 C109.43,243.38 106.35,242.32 103.3,241.4 C100.25,240.48 97.25,239.72 94.2,239.2 C91.15,238.67 86.53,238.41 85,238.25 Z" fill="url(#armL)" stroke="#2a2a2a" stroke-width="1.3"/>
<path d="M516,223 H434 V237.3 L439.4,237.3 C440.17,237.92 442.78,239.47 444,241 C445.22,242.53 446.1,244.35 446.7,246.5 C447.3,248.65 447.75,251.15 447.6,253.9 C447.45,256.65 446.87,259.65 445.8,263 C444.73,266.35 442.88,270.33 441.2,274 C439.52,277.67 437.68,281.02 435.7,285 C433.72,288.98 431.45,293.92 429.3,297.9 C427.15,301.88 424.63,305.55 422.8,308.9 C420.97,312.25 419.57,314.82 418.3,318 C417.03,321.18 415.72,326.33 415.2,328 A13.2,13.2 0 0 0 441.6,328.5 L441.6,328.5 C441.87,327.08 442.5,322.75 443.2,320 C443.9,317.25 444.6,314.92 445.8,312 C447,309.08 448.42,306.38 450.4,302.5 C452.38,298.62 455.27,292.83 457.7,288.7 C460.13,284.57 462.25,281.07 465,277.7 C467.75,274.33 470.53,271.55 474.2,268.5 C477.87,265.45 482.72,262.15 487,259.4 C491.28,256.65 496.23,253.97 499.9,252 C503.57,250.03 506.32,248.63 509,247.6 C511.68,246.57 514.83,246.1 516,245.8 Z" fill="url(#armR)" stroke="#2a2a2a" stroke-width="1.3"/>
<circle cx="200.2" cy="328.4" r="11.3" fill="#222220" stroke="#b2a652" stroke-width="1.4"/>
<circle cx="200.2" cy="328.4" r="9.6" fill="url(#bjh)"/>
<circle cx="200.2" cy="328.4" r="4.6" fill="#d8d4c0" opacity="0.6"/>
<circle cx="200.2" cy="328.4" r="3.2" fill="#fffbe8"/>
<circle cx="428.5" cy="328.3" r="11.3" fill="#222220" stroke="#b2a652" stroke-width="1.4"/>
<circle cx="428.5" cy="328.3" r="9.6" fill="url(#bjh)"/>
<circle cx="428.5" cy="328.3" r="4.6" fill="#d8d4c0" opacity="0.6"/>
<circle cx="428.5" cy="328.3" r="3.2" fill="#fffbe8"/>
<rect x="197.2" y="208.2" width="12.6" height="42" rx="2.5" fill="url(#boltv)" stroke="#b8b8b8" stroke-width="0.8"/>
<path d="M201,208.2V250.2M206,208.2V250.2" stroke="#d0d0d0" stroke-width="0.7"/>
<rect x="191.75" y="220.7" width="23.5" height="16" fill="url(#bushh)" stroke="#e8cc40" stroke-width="1"/>
<rect x="189.2" y="214.2" width="28.6" height="7" fill="url(#bushh)" stroke="#e8cc40" stroke-width="1"/>
<rect x="189.2" y="236" width="28.6" height="7.5" fill="url(#bushh)" stroke="#e8cc40" stroke-width="1"/>
<rect x="418.7" y="208.2" width="12.6" height="42" rx="2.5" fill="url(#boltv)" stroke="#b8b8b8" stroke-width="0.8"/>
<path d="M422.5,208.2V250.2M427.5,208.2V250.2" stroke="#d0d0d0" stroke-width="0.7"/>
<rect x="413.25" y="220.7" width="23.5" height="16" fill="url(#bushh)" stroke="#e8cc40" stroke-width="1"/>
<rect x="410.7" y="214.2" width="28.6" height="7" fill="url(#bushh)" stroke="#e8cc40" stroke-width="1"/>
<rect x="410.7" y="236" width="28.6" height="7.5" fill="url(#bushh)" stroke="#e8cc40" stroke-width="1"/>
<path d="M102.3,285 C102.5,300 103,318 108,335 C114,355 128,371 150,379.5 C165,385 180,386.2 200,386.3 H400 C420,386.3 440,386.1 455,383 C475,378 487,366 493.5,350 C498.5,336 499.6,318 499.6,285" fill="none" stroke="#5a5a5a" stroke-width="3.2" stroke-linecap="round"/>
<rect x="213" y="374" width="31" height="27" fill="url(#bushv)" stroke="#e8cc40" stroke-width="1"/>
<rect x="221.45" y="372" width="14.6" height="29" rx="3" fill="url(#bushv)" stroke="#e8cc40" stroke-width="1"/>
<rect x="357.5" y="374" width="31" height="27" fill="url(#bushv)" stroke="#e8cc40" stroke-width="1"/>
<rect x="365.7" y="372" width="14.6" height="29" rx="3" fill="url(#bushv)" stroke="#e8cc40" stroke-width="1"/>
<path d="M241,238.8 L241,220.5 C241,219.2 242,218.5 243.5,218.5 H263.5 C265,218.5 265.8,219.2 265.8,220.5 L265.8,239 L262,232 L261.8,227.5 C261.6,226 260.5,225.4 259,225.4 H248 C246.5,225.4 245.5,226 245.4,227.5 L245.3,232 Z" fill="url(#p30)" stroke="#b8a440" stroke-width="0.9" stroke-linejoin="round"/>
<path d="M243.3,235 L243.3,223.5 C243.3,222 244,221.3 245.5,221.3 H261.5 C263,221.3 263.6,222 263.6,223.5 L263.6,235" fill="none" stroke="#cfc69a" stroke-width="0.6" opacity="0.8"/>
<rect x="362.3" y="213.3" width="2.4" height="28.7" fill="#555" stroke="#c8b030" stroke-width="0.6"/>
<rect x="364.7" y="217.5" width="6.3" height="3" fill="url(#bushv)" stroke="#c8b030" stroke-width="0.5"/>
<rect x="364.7" y="228" width="6.8" height="12" fill="url(#bushv)" stroke="#c8b030" stroke-width="0.5"/>
<circle cx="259" cy="306.75" r="10.6" fill="#2c2c28" stroke="#a89838" stroke-width="1.3"/>
<path d="M251,304.5 C252,299.5 256,298.2 259,298.2 C262,298.2 266,299.5 267,304.5" fill="none" stroke="#b0a060" stroke-width="2.6"/>
<path d="M252.5,303.8 C254,300.6 256.5,300.1 259,300.1 C261.5,300.1 264,300.6 265.5,303.8" fill="none" stroke="#888" stroke-width="0.9"/>
<ellipse cx="259" cy="314" rx="6" ry="2.6" fill="#8a7e48"/>
<path d="M253.5,303.4 Q259,302.6 264.5,303.4 C264.5,308 262,311 259,311 C256,311 253.5,308 253.5,303.4 Z" fill="#fff"/>
<path d="M126.5,557.5 H151 V648.3 L151,648.3 C150.87,649.32 150.98,652.37 150.2,654.4 C149.42,656.43 148.48,658.45 146.3,660.5 C144.12,662.55 140.15,664.65 137.1,666.7 C134.05,668.75 130.55,670.5 128,672.8 C125.45,675.1 123.22,677.93 121.8,680.5 C120.38,683.07 119.93,685.38 119.5,688.2 C119.07,691.02 119.2,693.43 119.2,697.4 C119.2,701.37 119.45,709.57 119.5,712 L91.9,712 C91.9,709.57 91.77,701.37 91.9,697.4 C92.03,693.43 91.93,692.03 92.7,688.2 C93.47,684.37 94.72,679.02 96.5,674.4 C98.28,669.78 100.72,665.12 103.4,660.5 C106.08,655.88 109.53,651.03 112.6,646.7 C115.67,642.37 119.37,637.68 121.8,634.5 C124.23,631.32 126.3,630.02 127.2,627.6 C128.1,625.18 127.2,621.27 127.2,620 V557.5 Z" fill="url(#axle)" stroke="#555" stroke-width="0.9" stroke-linejoin="round"/>
<path d="M450,557 H474 L475,600 L475,600 C475.12,602 475.35,607.3 475.7,612 C476.05,616.7 475.7,624.17 477.1,628.2 C478.5,632.23 481.27,632.87 484.1,636.2 C486.93,639.53 491.1,643.53 494.1,648.2 C497.1,652.87 499.92,658.85 502.1,664.2 C504.28,669.55 506.18,674.95 507.2,680.3 C508.22,685.65 508.03,691.3 508.2,696.3 C508.37,701.3 508.2,707.97 508.2,710.3 L481.7,710.3 C481.7,707.97 481.8,700.3 481.7,696.3 C481.6,692.3 482.05,689.65 481.1,686.3 C480.15,682.95 478.85,679.55 476,676.2 C473.15,672.85 467.67,669.53 464,666.2 C460.33,662.87 456.33,659.2 454,656.2 C451.67,653.2 450.67,649.53 450,648.2 Z" fill="url(#axle)" stroke="#555" stroke-width="0.9" stroke-linejoin="round"/>
<path d="M150.4,581 H450.6 V602.1 C447,602 444,604 441,607.5 C438,611 434,613.1 430,613.1 H171 C167,613.1 163,611.5 160,607.5 C157.5,604 154.5,601.5 151.6,601.8 L150.4,602 Z" fill="url(#axle)"/>
<path d="M151,581 H450 M151.6,601.8 C154.5,601.5 157.5,604 160,607.5 C163,611.5 167,613.1 171,613.1 H430 C434,613.1 438,611 441,607.5 C444,604 447,602 450,602.1" fill="none" stroke="#555" stroke-width="0.9"/>
<rect x="101.75" y="527.5" width="73" height="21" rx="5" ry="4" fill="url(#bolth)" stroke="#b0b0b0" stroke-width="0.8"/>
<path d="M102.75,532.8 H173.75 M102.75,543.2 H173.75" stroke="#cfcfcf" stroke-width="0.8"/>
<rect x="113.75" y="514.75" width="12.75" height="46.5" fill="url(#bushv)" stroke="#e8cc40" stroke-width="1"/>
<rect x="127.25" y="519.25" width="21.75" height="38.25" fill="url(#bushv)" stroke="#e8cc40" stroke-width="0.8"/>
<rect x="149.75" y="514.75" width="13.5" height="46.5" fill="url(#bushv)" stroke="#e8cc40" stroke-width="1"/>
<rect x="425.5" y="527.5" width="73" height="21" rx="5" ry="4" fill="url(#bolth)" stroke="#b0b0b0" stroke-width="0.8"/>
<path d="M426.5,532.8 H497.5 M426.5,543.2 H497.5" stroke="#cfcfcf" stroke-width="0.8"/>
<rect x="437.5" y="514.75" width="12.75" height="46.5" fill="url(#bushv)" stroke="#e8cc40" stroke-width="1"/>
<rect x="451" y="519.25" width="21.75" height="38.25" fill="url(#bushv)" stroke="#e8cc40" stroke-width="0.8"/>
<rect x="473.5" y="514.75" width="13.5" height="46.5" fill="url(#bushv)" stroke="#e8cc40" stroke-width="1"/>
<path d="M181.2,191.7L189.84,204" stroke="#111" stroke-width="1.5"/><path d="M193,208.5L186.97,204.79L191.56,201.57Z" fill="#111"/>
<path d="M284,191.7L265.91,211.44" stroke="#111" stroke-width="1.5"/><path d="M262.2,215.5L264.53,208.82L268.66,212.6Z" fill="#111"/>
<path d="M389.3,194L371.11,212.93" stroke="#111" stroke-width="1.5"/><path d="M367.3,216.9L369.78,210.27L373.82,214.15Z" fill="#111"/>
<path d="M395.3,312.3L408.29,320.15" stroke="#111" stroke-width="1.5"/><path d="M413,323L405.99,322.03L408.89,317.24Z" fill="#111"/>
<path d="M279,334L269.47,322.27" stroke="#111" stroke-width="1.5"/><path d="M266,318L272.27,321.28L267.93,324.81Z" fill="#111"/>
<path d="M285,421L253.58,409.84" stroke="#111" stroke-width="1.5"/><path d="M248.4,408L255.46,407.54L253.59,412.81Z" fill="#111"/>
<path d="M316,421L347.81,409.82" stroke="#111" stroke-width="1.5"/><path d="M353,408L347.8,412.8L345.94,407.51Z" fill="#111"/>
<path d="M122.5,490L135.29,509.59" stroke="#111" stroke-width="1.5"/><path d="M138.3,514.2L132.4,510.29L137.09,507.23Z" fill="#111"/>
<circle cx="174.5" cy="177.3" r="15.1" fill="#fff" stroke="#111" stroke-width="1.5"/>
<path d="M173.3,170.9 L177.6,170.9 L175.2,183.7 L170.8,183.7 L172.5,175.4 L170.4,176.1 L170.9,173.9 Z" fill="#000" stroke="#000" stroke-width="0.5" stroke-linejoin="round"/>
<circle cx="295.6" cy="179.2" r="15.1" fill="#fff" stroke="#111" stroke-width="1.5"/><text transform="translate(295.6,185.3) scale(1.38,1)" x="0" y="0" text-anchor="middle" font-family="Liberation Serif" font-weight="bold" font-style="italic" font-size="17.9" fill="#000" stroke="#000" stroke-width="1.1" stroke-linejoin="round" vector-effect="non-scaling-stroke">30</text>
<circle cx="400.7" cy="181" r="15.1" fill="#fff" stroke="#111" stroke-width="1.5"/><text transform="translate(400.65,186.9) scale(1.42,1)" x="0" y="0" text-anchor="middle" font-family="Liberation Serif" font-weight="bold" font-style="normal" font-size="17.9" fill="#000" stroke="#000" stroke-width="1.1" stroke-linejoin="round" vector-effect="non-scaling-stroke">25</text>
<circle cx="382.7" cy="302.4" r="15.1" fill="#fff" stroke="#111" stroke-width="1.5"/><text transform="translate(382.4,309) scale(1.29,1)" x="0" y="0" text-anchor="middle" font-family="Liberation Serif" font-weight="bold" font-style="italic" font-size="17.9" fill="#000" stroke="#000" stroke-width="1.1" stroke-linejoin="round" vector-effect="non-scaling-stroke">2</text>
<circle cx="289" cy="346" r="15.1" fill="#fff" stroke="#111" stroke-width="1.5"/><text transform="translate(289,351.6) scale(1.36,1)" x="0" y="0" text-anchor="middle" font-family="Liberation Serif" font-weight="bold" font-style="italic" font-size="17.9" fill="#000" stroke="#000" stroke-width="1.1" stroke-linejoin="round" vector-effect="non-scaling-stroke">20</text>
<circle cx="300" cy="425.2" r="15.1" fill="#fff" stroke="#111" stroke-width="1.5"/><text transform="translate(301.3,431) scale(1.27,1)" x="0" y="0" text-anchor="middle" font-family="Liberation Serif" font-weight="bold" font-style="italic" font-size="17.9" fill="#000" stroke="#000" stroke-width="1.1" stroke-linejoin="round" vector-effect="non-scaling-stroke">3</text>
<circle cx="114.4" cy="475.25" r="15.1" fill="#fff" stroke="#111" stroke-width="1.5"/><text transform="translate(114.5,481.3) scale(1.17,1)" x="0" y="0" text-anchor="middle" font-family="Liberation Serif" font-weight="bold" font-style="italic" font-size="17.9" fill="#000" stroke="#000" stroke-width="1.1" stroke-linejoin="round" vector-effect="non-scaling-stroke">10</text>
<g>
<rect x="222.3" y="13.2" width="147.4" height="24.6" rx="8" fill="#8e8d88" stroke="#8a8a8a" stroke-width="0.8"/>
<rect x="223.6" y="14.5" width="144.8" height="22" rx="6.8" fill="none" stroke="#dcdcdc" stroke-width="2"/>
<rect x="224.8" y="15.7" width="142.4" height="19.6" rx="5.8" fill="none" stroke="#555" stroke-width="0.6"/>
<text x="225.3" y="33.6" font-family="Liberation Sans" font-weight="bold" font-style="italic" font-size="23.3" textLength="140" lengthAdjust="spacingAndGlyphs" fill="#c9a052" stroke="#c9a052" stroke-width="1.6"><tspan font-size="28.8" dy="1.2">P</tspan><tspan dy="-1.2">OWERFLEX</tspan></text>
<text x="224.3" y="32.6" font-family="Liberation Sans" font-weight="bold" font-style="italic" font-size="23.3" textLength="140" lengthAdjust="spacingAndGlyphs" fill="#0c1620" stroke="#0c1620" stroke-width="1.6"><tspan font-size="28.8" dy="1.2">P</tspan><tspan dy="-1.2">OWERFLEX</tspan></text>
<text x="261" y="48.3" font-family="Liberation Sans" font-size="17" textLength="102.5" lengthAdjust="spacingAndGlyphs" fill="#cc9228" stroke="#7a5414" stroke-width="0.75">Black Series</text>
<path d="M350,39.6 H369.5" stroke="#333" stroke-width="0.7"/>
<text x="260.5" y="60" font-family="Liberation Sans" font-size="8.6" textLength="104" lengthAdjust="spacingAndGlyphs" fill="#f2d048" stroke="#f2d048" stroke-width="0.15">Designed for the Track — Ready to Race</text>
<text x="300.5" y="80.3" text-anchor="middle" font-family="Liberation Sans" font-weight="bold" font-style="italic" font-size="15.2" textLength="70" lengthAdjust="spacingAndGlyphs" fill="#000" stroke="#000" stroke-width="1.1" stroke-linejoin="round">CORSA D</text>
</g>
</svg>
</body></html>
